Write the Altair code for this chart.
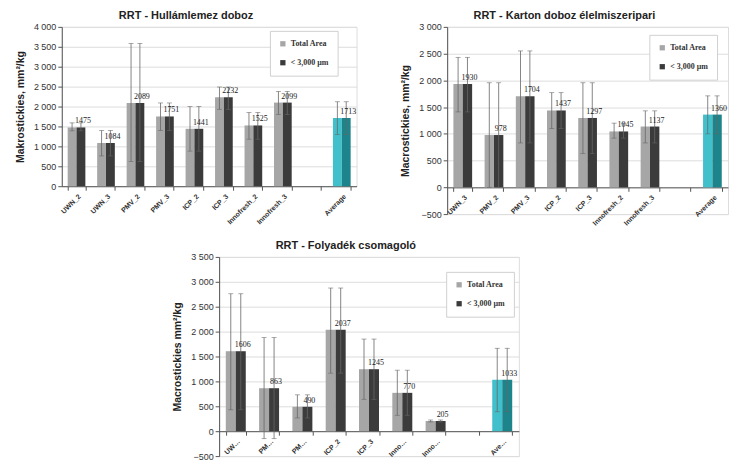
import altair as alt
import pandas as pd

# ---------------- data ----------------
SERIES = ["Total Area", "< 3,000 µm"]

# Chart 1: RRT - Hullámlemez doboz
c1_cats = ["UWN_2", "UWN_3", "PMV_2", "PMV_3", "ICP_2", "ICP_3", "Innofresh_2", "Innofresh_3", "Average"]
c1_total = [1475, 1084, 2089, 1751, 1441, 2232, 1525, 2099, 1713]
c1_small = [1475, 1084, 2089, 1751, 1441, 2232, 1525, 2099, 1713]
c1_lo = [1390, 760, 620, 1400, 880, 1930, 1180, 1800, 1300]
c1_hi = [1590, 1400, 3580, 2090, 2000, 2490, 1850, 2380, 2120]

# Chart 2: RRT - Karton doboz élelmiszeripari
c2_cats = ["UWN_3", "PMV_2", "PMV_3", "ICP_2", "ICP_3", "Innofresh_2", "Innofresh_3", "Average"]
c2_total = [1930, 978, 1704, 1437, 1297, 1045, 1137, 1360]
c2_small = [1930, 978, 1704, 1437, 1297, 1045, 1137, 1360]
c2_lo = [1410, 0, 830, 1100, 630, 920, 830, 1000]
c2_hi = [2430, 1955, 2550, 1770, 1955, 1200, 1430, 1710]

# Chart 3: RRT - Folyadék csomagoló
c3_cats = ["UWN_3", "PMV_2", "PMV_3", "ICP_2", "ICP_3", "Innofresh_2", "Innofresh_3", "Average"]
c3_total = [1606, 863, 490, 2037, 1245, 770, 205, 1033]
c3_small = [1606, 863, 490, 2037, 1245, 770, 205, 1033]
c3_lo = [430, -150, 266, 1165, 640, 319, 185, 390]
c3_hi = [2760, 1879, 730, 2875, 1850, 1225, 225, 1665]

GRAY, DARK, CYAN, TEAL = "#a6a6a6", "#3b3b3b", "#41c0cb", "#1d848b"
CKEYS = ["Total Area", "< 3,000 µm", "avg_total", "avg_small"]


def make_df(cats, total, small, lo, hi):
    rows = []
    for i, c in enumerate(cats):
        for s, vals in zip(SERIES, (total, small)):
            if c == "Average":
                ck = "avg_total" if s == SERIES[0] else "avg_small"
            else:
                ck = s
            rows.append({"cat": c, "series": s, "ckey": ck, "value": vals[i],
                         "lo": lo[i], "hi": hi[i]})
    return pd.DataFrame(rows)


def make_chart(title, ytitle, cats, total, small, lo, hi, ymin, ymax,
               width, height, legend_xy, label_limit):
    df = make_df(cats, total, small, lo, hi)
    slots = cats[:-1] + [" "] + cats[-1:]
    base = alt.Chart(df)
    yscale = alt.Scale(domain=[ymin, ymax], nice=False, zero=False)
    axis_off = -height * (0 - ymin) / (ymax - ymin)
    x = alt.X("cat:N", scale=alt.Scale(domain=slots, paddingInner=0.4, paddingOuter=0.2),
              sort=slots,
              axis=alt.Axis(title=None, labelAngle=-45, labelFontSize=7, labelFontWeight="bold",
                            labelColor="#333", tickBand="extent", domainColor="#555",
                            tickColor="#555", tickSize=4, offset=axis_off, labelPadding=2,
                            labelLimit=label_limit, grid=False))
    xo = alt.XOffset("series:N", sort=SERIES, scale=alt.Scale(domain=SERIES, paddingInner=0))
    yaxis = alt.Axis(title=ytitle, titleFontSize=10.5, titleFontWeight="bold",
                     titleColor="#222", titlePadding=8, labelFontSize=9, labelColor="#333",
                     values=list(range(ymin, ymax + 1, 500)), labelOverlap=False,
                     labelExpr="replace(format(datum.value, ','), ',', ' ')",
                     grid=True, gridColor="#dddddd", domainColor="#555",
                     tickColor="#555", tickSize=4, labelPadding=2)

    def Y(field):
        return alt.Y(field, scale=yscale, axis=yaxis)

    bars = base.mark_bar().encode(
        x=x, xOffset=xo, y=Y("value:Q"),
        color=alt.Color("ckey:N", scale=alt.Scale(domain=CKEYS, range=[GRAY, DARK, CYAN, TEAL]),
                        legend=alt.Legend(values=SERIES, title=None, orient="none",
                                          legendX=legend_xy[0], legendY=legend_xy[1],
                                          symbolType="square", symbolSize=28,
                                          labelFont="Liberation Serif", labelFontSize=8,
                                          labelFontWeight="bold", labelColor="#333",
                                          strokeColor="#d0d0d0", fillColor="white",
                                          padding=9, rowPadding=11, symbolStrokeWidth=0)),
    )
    rules = base.mark_rule(color="#666", strokeWidth=0.8).encode(
        x=x, xOffset=xo, y=Y("lo:Q"), y2="hi:Q")
    cap_hi = base.mark_tick(orient="horizontal", size=5, thickness=0.8, color="#666").encode(
        x=x, xOffset=xo, y=Y("hi:Q"))
    cap_lo = base.mark_tick(orient="horizontal", size=5, thickness=0.8, color="#666").encode(
        x=x, xOffset=xo, y=Y("lo:Q"))
    labels = base.transform_filter(alt.datum.series == SERIES[1]).mark_text(
        font="Liberation Serif", fontSize=8, color="#222", baseline="bottom", dy=-2, dx=2
    ).encode(x=x, xOffset=xo, y=Y("value:Q"), text=alt.Text("value:Q", format="d"))
    return alt.layer(bars, rules, cap_hi, cap_lo, labels).properties(
        width=width, height=height,
        title=alt.TitleParams(title, fontSize=11, fontWeight="bold", color="#222",
                              anchor="middle", frame="bounds", offset=2),
    )


c1 = make_chart("RRT - Hullámlemez doboz", "Makrostickies, mm²/kg", c1_cats, c1_total, c1_small,
                c1_lo, c1_hi, 0, 4000, 296, 160, (209, 4), 180)
c2 = make_chart("RRT - Karton doboz élelmiszeripari", "Macrostickies,  mm²/kg", c2_cats, c2_total,
                c2_small, c2_lo, c2_hi, -500, 3000, 282, 188, (203, 8), 40)
c3 = make_chart("RRT - Folyadék csomagoló", "Macrostickies  mm²/kg", c3_cats, c3_total, c3_small,
                c3_lo, c3_hi, -500, 3500, 301, 200, (228, 15), 22)

spacer = alt.Chart(pd.DataFrame({"z": [0]})).mark_point(size=0, opacity=0, strokeOpacity=0).encode(
    x=alt.X("z:Q", axis=None), y=alt.Y("z:Q", axis=None)
).properties(width=110, height=1,
             view=alt.ViewBackground(stroke="transparent", strokeWidth=0, fill="transparent",
                                     opacity=0))

top = alt.hconcat(c1, c2, spacing=42).resolve_scale(
    color="independent", x="independent", y="independent", xOffset="independent"
).resolve_legend(color="independent")
bottom = alt.hconcat(spacer, c3, spacing=0).resolve_scale(
    color="independent", x="independent", y="independent", xOffset="independent"
).resolve_legend(color="independent")

chart = alt.vconcat(top, bottom, spacing=12).resolve_scale(
    color="independent", x="independent", y="independent", xOffset="independent"
).resolve_legend(color="independent").configure_view(strokeWidth=0, stroke="transparent").configure(
    font="Liberation Sans", background="white",
    padding={"left": 6, "top": 0, "right": 0, "bottom": 0}
)

chart.save("out.html", embed_options={"renderer": "svg", "actions": False})
